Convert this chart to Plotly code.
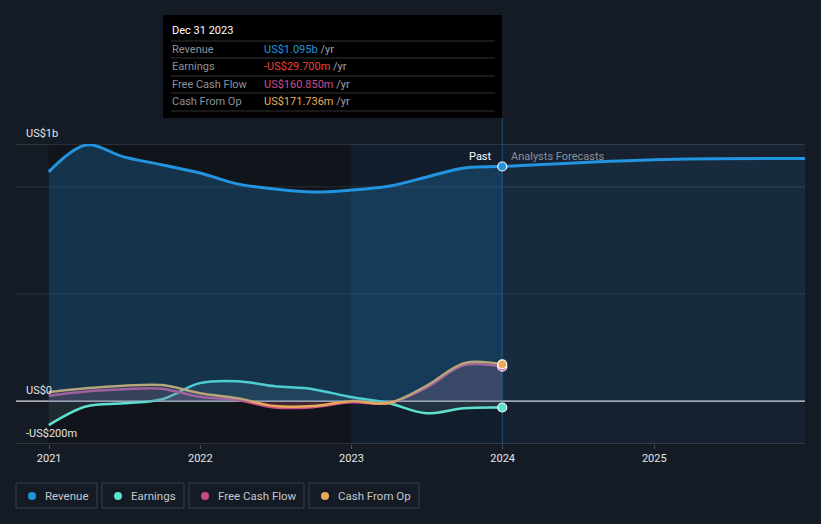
import plotly.graph_objects as go

# ---------------- data (US$ millions) ----------------
past_dates = ["2020-12-31", "2021-03-31", "2021-06-30", "2021-09-30", "2021-12-31",
              "2022-03-31", "2022-06-30", "2022-09-30", "2022-12-31", "2023-03-31",
              "2023-06-30", "2023-09-30", "2023-12-31"]
revenue = [1070, 1195, 1140, 1103, 1065, 1014, 990, 976, 985, 1003, 1045, 1088, 1095]
earnings = [-112, -25, -10, 9, 84, 93, 70, 56, 19, -9, -56, -33, -29.7]
free_cash_flow = [25, 45, 55, 58, 20, 5, -30, -28, -5, -10, 62, 168, 160.85]
cash_from_op = [42, 60, 72, 75, 37, 14, -23, -23, 0, -9, 70, 177, 171.736]

forecast_dates = ["2023-12-31", "2024-12-31", "2025-12-31"]
revenue_forecast = [1095, 1127, 1132]

tick_dates = ["2021-01-01", "2022-01-01", "2023-01-01", "2024-01-01", "2025-01-01"]
tick_labels = ["2021", "2022", "2023", "2024", "2025"]

x_range = ["2020-10-13", "2025-12-31"]
y_range = [-200, 1200]

C_REV = "#2394df"
C_EARN = "#5ce1d1"
C_FCF = "#c94a8a"
C_CFO = "#e8aa5a"
BG = "#151b25"
FONT = "Roboto"

# pixel -> paper helpers (plot area: x 16..805, y 144..444)
def pxx(p):
    return (p - 16) / 789.0

def pxy(p):
    return (444 - p) / 300.0

fig = go.Figure()

# earnings / cash flow fills + lines
fig.add_trace(go.Scatter(x=past_dates, y=earnings, mode="lines",
                         line=dict(color=C_EARN, width=2.5, shape="spline"),
                         fill="tozeroy", fillcolor="rgba(120,160,170,0.16)"))
fig.add_trace(go.Scatter(x=past_dates, y=free_cash_flow, mode="lines",
                         line=dict(color=C_FCF, width=2.5, shape="spline"),
                         fill="tozeroy", fillcolor="rgba(201,74,138,0.18)"))
fig.add_trace(go.Scatter(x=past_dates, y=cash_from_op, mode="lines",
                         line=dict(color=C_CFO, width=2.5, shape="spline"),
                         fill="tozeroy", fillcolor="rgba(232,170,90,0.08)"))

# revenue past + forecast
fig.add_trace(go.Scatter(x=past_dates, y=revenue, mode="lines",
                         line=dict(color=C_REV, width=3, shape="spline"),
                         fill="tozeroy", fillcolor="rgba(35,148,223,0.25)"))
fig.add_trace(go.Scatter(x=forecast_dates, y=revenue_forecast, mode="lines",
                         line=dict(color=C_REV, width=3, shape="spline"),
                         fill="tozeroy", fillcolor="rgba(35,148,223,0.08)"))

# end markers
for series, col in [(earnings, C_EARN), (free_cash_flow, C_FCF),
                    (cash_from_op, C_CFO), (revenue, C_REV)]:
    fig.add_trace(go.Scatter(x=[past_dates[-1]], y=[series[-1]], mode="markers",
                             marker=dict(color=col, size=9,
                                         line=dict(color="white", width=1.2))))

shapes = []
# background regions
shapes.append(dict(type="rect", xref="x", yref="paper", x0=past_dates[0], x1="2022-12-31",
                   y0=0, y1=1, fillcolor="#10141b", line=dict(width=0), layer="below"))
shapes.append(dict(type="rect", xref="x", yref="paper", x0="2022-12-31", x1="2023-12-31",
                   y0=0, y1=1, fillcolor="#121e2b", line=dict(width=0), layer="below"))
shapes.append(dict(type="rect", xref="x", yref="paper", x0="2023-12-31", x1=x_range[1],
                   y0=0, y1=1, fillcolor="#172130", line=dict(width=0), layer="below"))
# gridlines
for gv, gc in [(500, "rgba(255,255,255,0.09)"), (1000, "rgba(255,255,255,0.12)"),
               (1200, "rgba(255,255,255,0.22)")]:
    shapes.append(dict(type="line", xref="paper", yref="y", x0=0, x1=1, y0=gv, y1=gv,
                       line=dict(color=gc, width=1), layer="below"))
shapes.append(dict(type="line", xref="paper", yref="y", x0=0, x1=1, y0=-200, y1=-200,
                   line=dict(color="rgba(255,255,255,0.25)", width=1), layer="below"))
shapes.append(dict(type="line", xref="paper", yref="y", x0=0, x1=1, y0=0, y1=0,
                   line=dict(color="rgba(255,255,255,0.85)", width=1.3), layer="below"))
# vertical "now" line
shapes.append(dict(type="line", xref="x", yref="paper", x0="2023-12-31", x1="2023-12-31",
                   y0=0, y1=pxy(118), line=dict(color="rgba(35,148,223,0.45)", width=1),
                   layer="below"))

# tooltip box
shapes.append(dict(type="rect", xref="paper", yref="paper", x0=pxx(163), x1=pxx(502),
                   y0=pxy(118), y1=pxy(15), fillcolor="#000000", line=dict(width=0),
                   layer="above"))
for ly in [41, 58, 76, 93, 111]:
    shapes.append(dict(type="line", xref="paper", yref="paper", x0=pxx(171), x1=pxx(495),
                       y0=pxy(ly), y1=pxy(ly), line=dict(color="#333333", width=1),
                       layer="above"))

# legend boxes
legend_items = [("Revenue", C_REV, 16, 97), ("Earnings", C_EARN, 102, 184),
                ("Free Cash Flow", C_FCF, 189, 304), ("Cash From Op", C_CFO, 309, 419)]
annotations = []
for name, col, bx0, bx1 in legend_items:
    shapes.append(dict(type="rect", xref="paper", yref="paper", x0=pxx(bx0), x1=pxx(bx1),
                       y0=pxy(508), y1=pxy(483), line=dict(color="#3a404b", width=1),
                       fillcolor="rgba(0,0,0,0)"))
    shapes.append(dict(type="circle", xref="paper", yref="paper",
                       x0=pxx(bx0 + 12), x1=pxx(bx0 + 20), y0=pxy(500), y1=pxy(492),
                       fillcolor=col, line=dict(width=0)))
    annotations.append(dict(xref="paper", yref="paper", x=pxx(bx0 + 27), y=pxy(496),
                            text=name, showarrow=False, xanchor="left", yanchor="middle",
                            font=dict(family=FONT, size=11.5, color="#c3c7ce")))

# y labels
for val, txt in [(1200, "US$1b"), (0, "US$0"), (-200, "-US$200m")]:
    annotations.append(dict(xref="paper", yref="y", x=pxx(24), y=val, text=txt,
                            showarrow=False, xanchor="left", yanchor="bottom", yshift=2,
                            font=dict(family=FONT, size=11, color="#e6e6e6")))

# Past / Analysts Forecasts
annotations.append(dict(xref="x", yref="paper", x="2023-12-31", y=pxy(156), text="Past",
                        showarrow=False, xanchor="right", yanchor="middle", xshift=-8,
                        font=dict(family=FONT, size=11, color="#ffffff")))
annotations.append(dict(xref="x", yref="paper", x="2023-12-31", y=pxy(156),
                        text="Analysts Forecasts", showarrow=False, xanchor="left",
                        yanchor="middle", xshift=7,
                        font=dict(family=FONT, size=11, color="#8b9099")))

# tooltip text
annotations.append(dict(xref="paper", yref="paper", x=pxx(170), y=pxy(31),
                        text="Dec 31 2023", showarrow=False, xanchor="left", yanchor="middle",
                        font=dict(family=FONT, size=11, color="#ffffff")))
rows = [("Revenue", "US$1.095b", C_REV, 49), ("Earnings", "-US$29.700m", "#e8403c", 66),
        ("Free Cash Flow", "US$160.850m", "#d14b8f", 84),
        ("Cash From Op", "US$171.736m", C_CFO, 101)]
for lab, val, col, ry in rows:
    annotations.append(dict(xref="paper", yref="paper", x=pxx(170), y=pxy(ry), text=lab,
                            showarrow=False, xanchor="left", yanchor="middle",
                            font=dict(family=FONT, size=11, color="#8e9299")))
    annotations.append(dict(xref="paper", yref="paper", x=pxx(262), y=pxy(ry),
                            text=f"<span style='color:{col}'>{val}</span> /yr",
                            showarrow=False, xanchor="left", yanchor="middle",
                            font=dict(family=FONT, size=11, color="#a0a4aa")))

fig.update_layout(
    width=821, height=524,
    margin=dict(l=16, r=16, t=144, b=80),
    paper_bgcolor=BG, plot_bgcolor=BG,
    showlegend=False,
    hovermode=False,
    shapes=shapes,
    annotations=annotations,
    xaxis=dict(type="date", range=x_range, tickvals=tick_dates, ticktext=tick_labels,
               showgrid=False, zeroline=False, showline=False,
               ticks="outside", ticklen=4, tickcolor="#4a505a",
               tickfont=dict(family=FONT, size=11, color="#e6e6e6")),
    yaxis=dict(range=y_range, showgrid=False, zeroline=False, showticklabels=False,
               showline=False),
)

fig.write_html("out.html", config={"displayModeBar": False},
               post_script="document.body.style.margin='0';"
                           "document.body.style.background='#151b25';")
